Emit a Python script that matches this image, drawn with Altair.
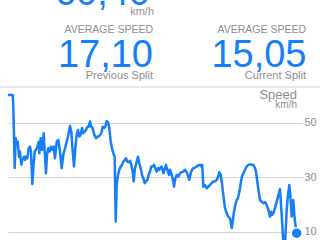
import altair as alt
import pandas as pd

# sample positions (relative time units) and speed values (km/h)
t = [0, 4.7, 5.3, 6.7, 7.7, 8.7, 9.7, 11, 12, 13.3, 14.3, 16, 17, 18, 19.3, 20.7, 22, 23, 24.3, 25.3,
     26.7, 28, 29.3, 30.7, 31.3, 32.7, 34, 35.7, 36.7, 38, 39, 40.3, 41.7, 43, 44.3, 45.7, 47, 48.7, 50.3, 52,
     53.7, 55.3, 57, 58.7, 60.3, 62, 63.3, 64.7, 66, 67.3, 68.7, 70, 71.3, 72.7, 74, 75.3, 76.7, 78, 79.3, 80.7,
     82, 83.3, 84.7, 86.3, 88, 89.3, 90.7, 92, 93.3, 94.7, 96, 97.3, 98.7, 100, 101.3, 102.7, 104, 105.3, 106.7, 107.7,
     108.7, 110, 111.3, 112.7, 114, 115.3, 116.7, 118, 119.3, 120.7, 122, 123.3, 124.7, 125.7, 127, 128.7, 130, 131.3, 132.7, 134,
     135.3, 136.7, 138, 139.3, 140.7, 142, 143.3, 144.7, 146, 147.3, 148.7, 150, 151.3, 152, 153.7, 155.3, 157, 158, 159.3, 161,
     162, 163.7, 165.3, 166, 167.3, 168.7, 170.3, 172, 173.7, 175.3, 177, 178.7, 180.3, 181.3, 182.7, 184, 185.3, 187, 188.7, 190.3,
     192, 193.3, 194.3, 195.3, 197, 198.7, 200.3, 202, 203.7, 205.3, 207, 208.7, 210.3, 211.3, 212.7, 213.7, 215.3, 217, 218.7, 220.3,
     222, 223.7, 224.7, 226, 227.3, 228.7, 230, 231, 232, 233, 234, 235.3, 237, 238.7, 240.3, 242, 243.7, 245.3, 247, 248,
     249.3, 250.7, 252, 253.7, 255.3, 257, 258.7, 260.3, 262, 263, 264, 265.3, 267, 268.7, 272, 273.7, 275.3, 277, 278.7, 280,
     281.3, 282.3, 283.7, 285.3, 286.3, 288, 288.7]
speed = [60.3, 60.3, 56.6, 33.5, 44.5, 42.7, 43.1, 37.5, 39.5, 34.6, 36.4, 37.6, 36.4, 37.6, 37.0, 40.7, 41.3, 39.5, 27.6, 33.4,
         39.5, 40.1, 41.3, 43.1, 38.9, 44.4, 40.1, 46.2, 39.5, 31.5, 38.3, 40.7, 39.5, 41.3, 40.1, 41.3, 37.0, 43.1, 43.8, 39.5,
         33.4, 38.3, 40.7, 43.1, 45.6, 48.9, 46.8, 39.5, 34.0, 40.7, 45.6, 47.4, 45.0, 45.6, 48.1, 46.2, 46.8, 47.4, 48.6, 48.6,
         50.5, 48.6, 48.1, 45.6, 44.4, 45.0, 45.0, 45.6, 46.2, 48.6, 48.1, 48.6, 50.7, 50.3, 48.1, 43.1, 40.7, 38.9, 37.6, 13.8,
         27.2, 30.9, 32.8, 34.0, 34.6, 35.8, 36.4, 37.0, 35.8, 35.6, 36.1, 34.6, 32.1, 28.5, 33.4, 35.8, 37.6, 35.2, 33.4, 30.9,
         29.7, 27.9, 28.5, 29.1, 30.9, 32.1, 34.0, 34.0, 34.6, 33.4, 32.1, 33.4, 32.8, 33.4, 34.0, 31.5, 33.4, 34.6, 32.8, 30.9,
         32.8, 30.9, 28.5, 26.6, 29.7, 30.9, 30.3, 31.5, 31.9, 32.1, 32.8, 31.9, 30.3, 29.1, 31.5, 32.8, 33.4, 33.6, 34.0, 34.4,
         34.6, 34.0, 34.6, 26.6, 27.2, 26.0, 26.6, 27.2, 27.9, 28.5, 28.5, 29.1, 30.3, 31.9, 30.9, 28.5, 23.6, 18.7, 16.8, 15.6,
         15.0, 11.4, 13.8, 17.4, 19.9, 21.7, 22.4, 24.2, 26.0, 28.5, 30.3, 31.5, 32.8, 34.0, 34.6, 34.8, 34.6, 34.6, 33.4, 32.1,
         28.5, 24.8, 21.7, 21.1, 20.5, 20.9, 19.9, 18.1, 15.6, 17.4, 16.2, 16.8, 18.7, 21.1, 25.7, 16.2, 6.0, 5.5, 18.1, 23.6,
         27.2, 23.6, 15.6, 21.7, 16.2, 10.7, 9.5]

n = min(len(t), len(speed))
df = pd.DataFrame({"t": t[:n], "speed": speed[:n]})
last = df.tail(1)

tick_values = [10, 30, 50]

FONT = "Liberation Sans"
GRAY = "#8e8e93"
BLUE = "#157efb"

x_scale = alt.Scale(domain=[0, 294])
y_scale = alt.Scale(domain=[7, 63.2])

line = alt.Chart(df).mark_line(color=BLUE, strokeWidth=2.5, strokeJoin="round").encode(
    x=alt.X("t:Q", scale=x_scale, axis=None),
    y=alt.Y("speed:Q", scale=y_scale,
            axis=alt.Axis(orient="right", values=tick_values, grid=True, gridColor="#d4d4d4",
                          gridWidth=1, domain=False, ticks=False, title=None, labelPadding=2,
                          labelColor=GRAY, labelFontSize=11, labelFont=FONT)),
)

dot = alt.Chart(last).mark_point(filled=True, shape="circle", size=120, color=BLUE,
                                 stroke="white", strokeWidth=1.5, opacity=1).encode(
    x=alt.X("t:Q", scale=x_scale), y=alt.Y("speed:Q", scale=y_scale)
)

sep = alt.Chart(pd.DataFrame({"a": [0]})).mark_rule(color="#cfcfcf", strokeWidth=1).encode(
    x=alt.value(-8), x2=alt.value(312), y=alt.value(0)
)


def txt(s, x, y, size, color, align="right"):
    return alt.Chart(pd.DataFrame({"s": [s]})).mark_text(
        font=FONT, fontSize=size, color=color, align=align, baseline="alphabetic"
    ).encode(text="s:N", x=alt.value(x), y=alt.value(y))


texts = [
    txt("60,40", 142, -82, 38, BLUE),
    txt("km/h", 146, -72, 11, GRAY),
    txt("AVERAGE SPEED", 145, -54.5, 10.5, GRAY),
    txt("17,10", 145, -20.5, 38, BLUE),
    txt("Previous Split", 145, -8, 11, GRAY),
    txt("AVERAGE SPEED", 298, -54.5, 10.5, GRAY),
    txt("15,05", 298.5, -20.5, 38, BLUE),
    txt("Current Split", 298, -8, 11, GRAY),
    txt("Speed", 289, 12, 13, GRAY),
    txt("km/h", 289, 20.5, 10, GRAY),
]

chart = alt.layer(line, dot, sep, *texts).properties(
    width=294, height=153,
    padding={"left": 8, "top": 87, "right": 18, "bottom": 0},
    autosize=alt.AutoSizeParams(type="none"),
    background="white",
).configure_view(stroke=None)

chart.save("out.html", embed_options={"renderer": "svg", "actions": False})
